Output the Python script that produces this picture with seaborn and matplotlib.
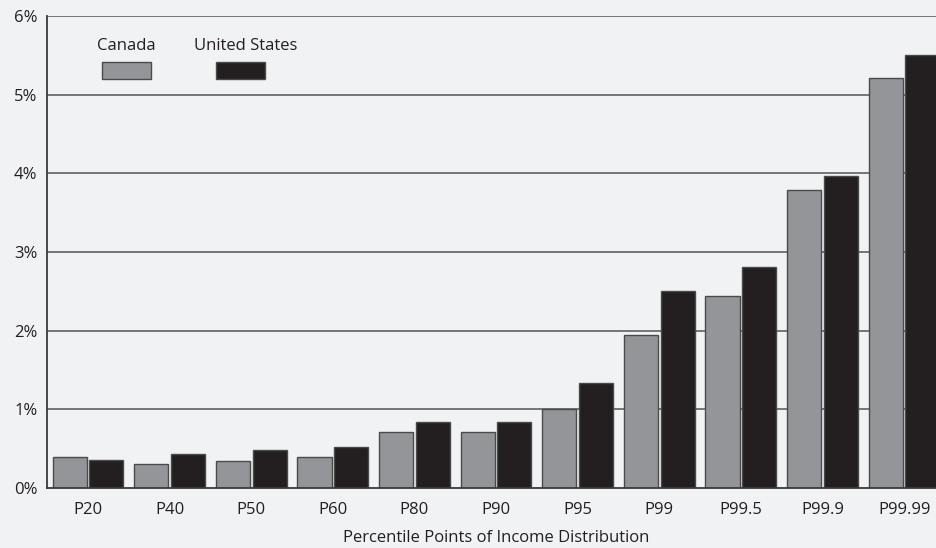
import pandas as pd
import matplotlib.pyplot as plt
import seaborn as sns
from matplotlib.patches import Rectangle
from matplotlib.ticker import FuncFormatter

# chart values (percent)
percentiles = ["P20", "P40", "P50", "P60", "P80", "P90", "P95", "P99", "P99.5", "P99.9", "P99.99"]
canada = [0.39, 0.30, 0.34, 0.39, 0.71, 0.71, 1.00, 1.94, 2.44, 3.79, 5.21]
united_states = [0.36, 0.43, 0.48, 0.52, 0.84, 0.84, 1.33, 2.50, 2.81, 3.97, 5.50]
countries = ["Canada", "United States"]
y_ticks = [0, 1, 2, 3, 4, 5, 6]

BG = "#f1f2f4"
palette = {"Canada": "#939598", "United States": "#231f20"}

df = pd.DataFrame({
    "Percentile": percentiles * 2,
    "Country": ["Canada"] * len(canada) + ["United States"] * len(united_states),
    "Value": canada + united_states,
})

sns.set_theme(style="white")
plt.rcParams["font.family"] = ["Open Sans", "DejaVu Sans"]

fig = plt.figure(figsize=(9.37, 5.48), dpi=100, facecolor=BG)
ax = fig.add_axes([0.0504, 0.1095, 0.958, 0.8613])
ax.set_facecolor(BG)

sns.barplot(
    data=df, x="Percentile", y="Value", hue="Country", order=percentiles,
    hue_order=countries, palette=palette, width=0.9, gap=0.07,
    edgecolor="#4a4a4a", linewidth=1.0, saturation=1, legend=False, ax=ax,
)

# gridlines
for t in y_ticks[1:]:
    ax.axhline(t, color="#606060", lw=1.2, zorder=0)

ax.set_xlim(-0.5, len(percentiles) - 0.5)
ax.set_ylim(0, 6)
ax.set_yticks(y_ticks)
ax.yaxis.set_major_formatter(FuncFormatter(lambda v, _: f"{int(v)}%"))
ax.tick_params(axis="y", length=0, labelsize=12, colors="#231f20", pad=7)
ax.tick_params(axis="x", length=0, labelsize=12, colors="#231f20", pad=10)
ax.set_xlabel("Percentile Points of Income Distribution", fontsize=12, color="#231f20", labelpad=9)
ax.set_ylabel("")

for side in ["top", "right"]:
    ax.spines[side].set_visible(False)
for side in ["left", "bottom"]:
    ax.spines[side].set_color("#3a3a3a")
    ax.spines[side].set_linewidth(1.3)

# custom legend: label above swatch
legend_items = [("Canada", 0.0607, 0.0876), ("United States", 0.1876, 0.2208)]
for name, px, tx in legend_items:
    ax.add_patch(Rectangle((px, 0.8665), 0.055, 0.036, transform=ax.transAxes,
                           facecolor=palette[name], edgecolor="#4a4a4a", lw=1.0, zorder=5))
    ax.text(tx, 0.936, name, transform=ax.transAxes, ha="center", va="center",
            fontsize=12, color="#231f20")

fig.savefig("out.png", dpi=100, facecolor=BG)
